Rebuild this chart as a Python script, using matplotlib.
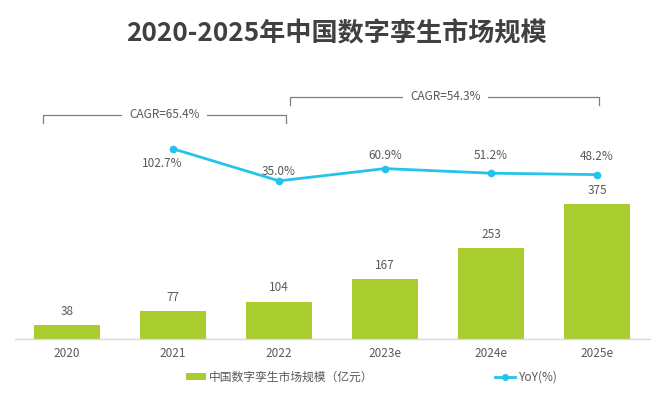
import matplotlib
matplotlib.use("Agg")
import matplotlib.pyplot as plt
from matplotlib.lines import Line2D
from matplotlib.patches import Patch

plt.rcParams['font.family'] = ['Noto Sans CJK SC', 'DejaVu Sans']

categories = ['2020', '2021', '2022', '2023e', '2024e', '2025e']
market = [38, 77, 104, 167, 253, 375]
yoy = [102.7, 35.0, 60.9, 51.2, 48.2]
yoy_years = ['2021', '2022', '2023e', '2024e', '2025e']
yoy_labels = ['102.7%', '35.0%', '60.9%', '51.2%', '48.2%']
cagr_labels = ['CAGR=65.4%', 'CAGR=54.3%']
bar_name = '中国数字孪生市场规模（亿元）'
line_name = 'YoY(%)'
title = '2020-2025年中国数字孪生市场规模'

GREEN = '#A9CC2F'
CYAN = '#25C2EB'
TXT = '#595959'

W, H = 672, 395
fig = plt.figure(figsize=(W / 100, H / 100), dpi=100)
left, right, bottom, top = 15, 650, 339, 80
ax = fig.add_axes([left / W, 1 - bottom / H, (right - left) / W, (bottom - top) / H])
ax2 = ax.twinx()

x = list(range(len(categories)))
ax.bar(x, market, width=0.62, color=GREEN, zorder=2)
for xi, v in zip(x, market):
    ax.text(xi, v + 20, str(v), ha='center', va='bottom', fontsize=8.5, color=TXT)

ax.set_xlim(-0.49, 5.5)
ax.set_ylim(0, 719)
ax.set_xticks(x)
ax.set_xticklabels(categories, fontsize=8.5, color=TXT)
ax.tick_params(axis='x', length=0, pad=6)
ax.set_yticks([])
for s in ['left', 'right', 'top']:
    ax.spines[s].set_visible(False)
ax.spines['bottom'].set_color('#D9D9D9')
ax.spines['bottom'].set_linewidth(1.0)

yx = [categories.index(c) for c in yoy_years]
ax2.plot(yx, yoy, color=CYAN, lw=2, marker='o', ms=4.5, zorder=3)
ax2.set_ylim(-299, 248)
ax2.set_yticks([])
for s in ['left', 'right', 'top', 'bottom']:
    ax2.spines[s].set_visible(False)
offsets = [(-8, -6, 'top'), (0, 2, 'bottom'), (0, 5, 'bottom'), (0, 8, 'bottom'), (0, 8, 'bottom')]
for xi, v, lab, (dx, dy, va) in zip(yx, yoy, yoy_labels, offsets):
    ax2.annotate(lab, (xi, v), xytext=(dx, dy), textcoords='offset points',
                 ha='center', va=va, fontsize=8.5, color=TXT)

# CAGR brackets
def bracket(x0, x1, y, ytick, label, xt):
    ax.plot([x0, x0, x1, x1], [ytick, y, y, ytick], color='#7F7F7F', lw=0.9,
            clip_on=False, zorder=1)
    ax.text(xt, y, label, ha='center', va='center', fontsize=8.5, color=TXT,
            bbox=dict(facecolor='white', edgecolor='none', pad=5), zorder=4)

bracket(-0.226, 2.07, 622, 600, cagr_labels[0], 0.92)
bracket(2.10, 5.02, 672, 650, cagr_labels[1], 3.57)

fig.text(0.5, 1 - 34 / H, title, ha='center', va='center', fontsize=18.8,
         fontweight='bold', color='#404040')

handles = [Patch(facecolor=GREEN, edgecolor='none'),
           Line2D([0], [0], color=CYAN, lw=2, marker='o', ms=4)]
fig.legend(handles, [bar_name, line_name], loc='center', ncol=2,
           bbox_to_anchor=(0.553, 1 - 377 / H), frameon=False, fontsize=8.5,
           labelcolor=TXT, columnspacing=10.3, handlelength=1.7, handletextpad=0.3,
           handleheight=0.6)

fig.savefig('out.png', dpi=100)
